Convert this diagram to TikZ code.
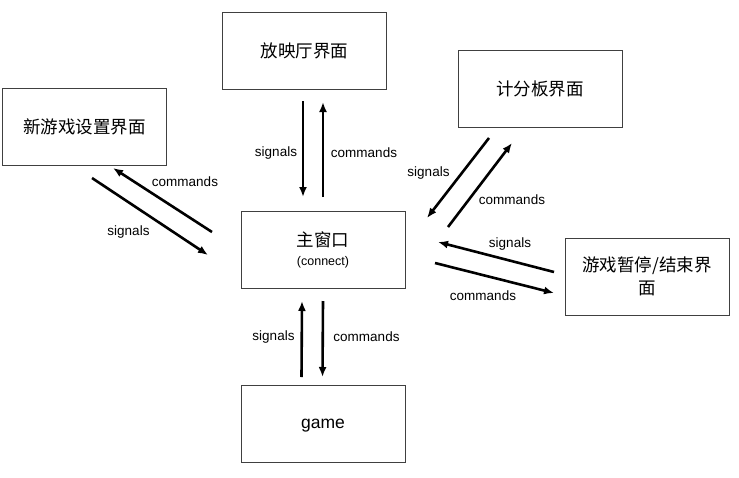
\documentclass[tikz,border=0pt]{standalone}
\usepackage{fontspec}
\setmainfont{Liberation Sans}
\newfontfamily\cjk{Noto Sans CJK SC}
\usetikzlibrary{arrows.meta,positioning}

\begin{document}
\begin{tikzpicture}[
    x=1pt, y=-1pt,
    mybox/.style={
    rectangle,
    draw=black!75,
    line width=1pt,
    minimum width=164pt,
    minimum height=77pt,
    outer sep=0pt,
    align=center,
    font=\fontsize{17.5}{23}\selectfont},
    myarrow/.style={-{Latex[length=10pt,width=8pt]},line width=2.6pt},
    mylabel/.style={font=\fontsize{13.5}{16}\selectfont,inner sep=0pt}
    ]
    \useasboundingbox (0,0) rectangle (739,477);

    \node[mybox] (main) at (323,250) {{\cjk 主窗口}\\[-4pt]{\fontsize{12.5}{14}\selectfont (connect)}};
    \node[mybox] (hall) at (304.5,50.5) {\cjk 放映厅界面};
    \node[mybox] (newgame) at (84.5,126.5) {\cjk 新游戏设置界面};
    \node[mybox] (score) at (540,89) {\cjk 计分板界面};
    \node[mybox] (pause) at (647,276.5) {\cjk 游戏暂停/结束界\\\cjk 面};
    \node[mybox, text depth=0pt, below=96.5pt of main] (game) {game};

    % hall
    \draw[myarrow] ([shift={(-1.5,12)}]hall.south) -- ([shift={(-20,-14.5)}]main.north);
    \draw[myarrow] ([shift={(0,-14.5)}]main.north) -- ([shift={(18.5,13)}]hall.south);
    \node[mylabel] (hallsig) at (276,153) {signals};
    \node[mylabel] (hallcmd) at (364,153) {commands};

    % new game
    \draw[myarrow] ([shift={(-74.5,13)}]newgame.south east) -- ([shift={(-33,5)}]main.west);
    \draw[myarrow] ([shift={(-29,-18)}]main.west) -- ([shift={(-53.5,3)}]newgame.south east);
    \node[mylabel] (newcmd) at (185,182) {commands};
    \node[mylabel] (newsig) at (128.5,232) {signals};

    % score
    \draw[myarrow] ([shift={(-51,10.5)}]score.south) -- ([shift={(22,6.5)}]main.north east);
    \draw[myarrow] ([shift={(43,15.5)}]main.north east) -- ([shift={(-28,15.5)}]score.south);
    \node[mylabel] (scoresig) at (428.5,173) {signals};
    \node[mylabel] (scorecmd) at (512,200) {commands};

    % pause
    \draw[myarrow] ([shift={(-11,-4.5)}]pause.west) -- ([shift={(33,-8)}]main.east);
    \draw[myarrow] ([shift={(30,13)}]main.east) -- ([shift={(-11,16.5)}]pause.west);
    \node[mylabel] (pausesig) at (510,244) {signals};
    \node[mylabel] (pausecmd) at (483,296) {commands};

    % game
    \draw[myarrow] ([shift={(-21.5,-8)}]game.north) -- ([shift={(-21,12.5)}]main.south);
    \draw[myarrow] ([shift={(0,12.5)}]main.south) -- ([shift={(-0.5,-8)}]game.north);
    \node[mylabel] (gamesig) at (273.5,337) {signals};
    \node[mylabel] (gamecmd) at (366.5,337) {commands};
\end{tikzpicture}
\end{document}
